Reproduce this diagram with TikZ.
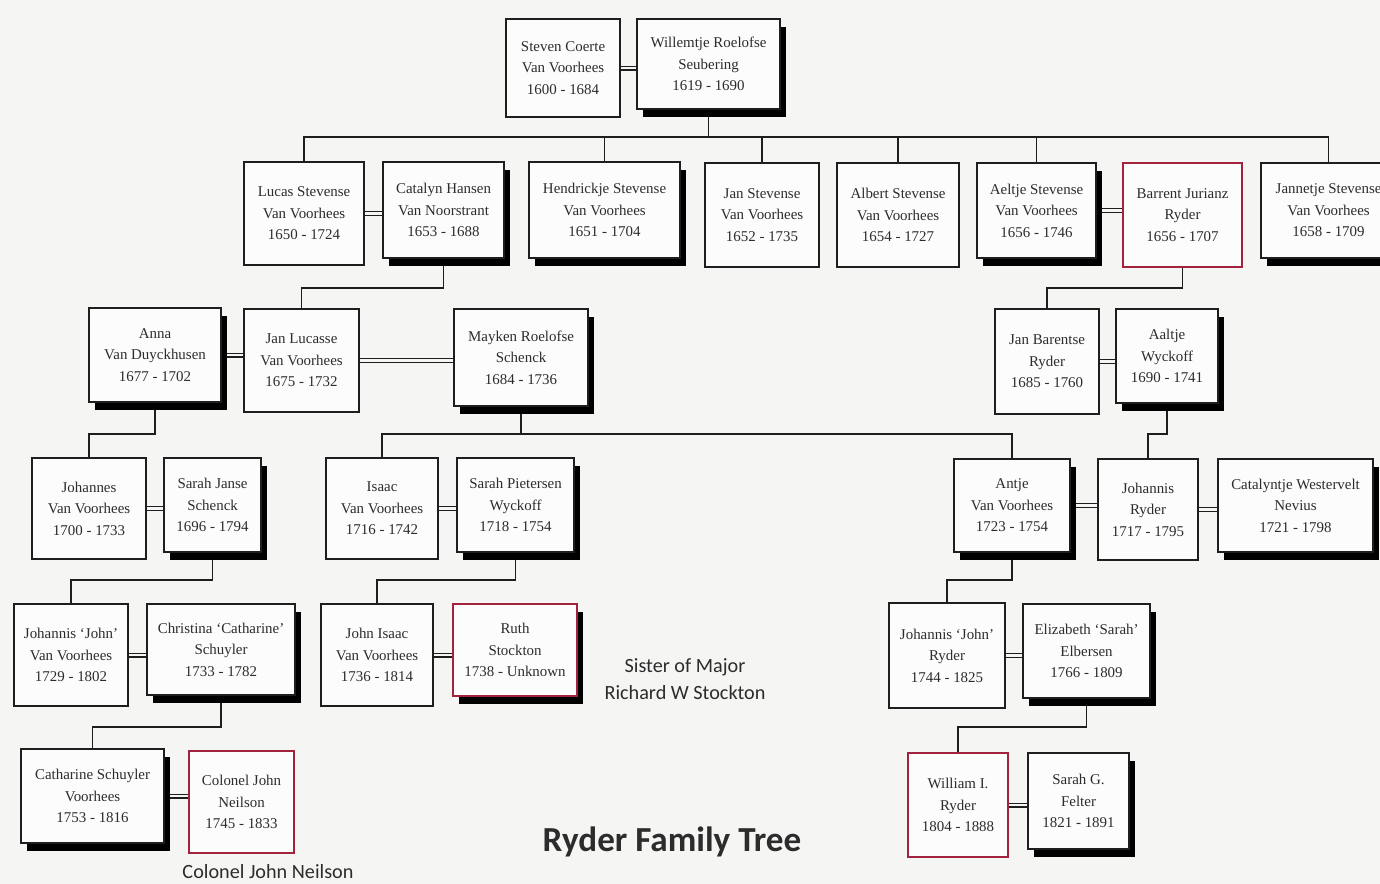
\documentclass[tikz,border=0pt]{standalone}
\usepackage{fontspec}
\setmainfont{Liberation Serif}
\newfontfamily\notefont{Carlito}
\usetikzlibrary{shadows,backgrounds}

\begin{document}
\begin{tikzpicture}[x=0.02cm,y=-0.02cm,
    person/.style={draw=boxline,line width=1.2pt,fill=boxfill,anchor=north west,
      align=center,inner sep=1pt,text=inkgray,font=\fontsize{8.5}{12.2}\selectfont},
    boxsize/.style 2 args={minimum width={#1*0.02cm},minimum height={#2*0.02cm}},
    dropped/.style={general shadow={fill=black,shadow xshift=0.12cm,shadow yshift=-0.15cm}},
    ryder/.style={draw=ryderred},
    link/.style={draw=boxline,line width=0.85pt},
    wed/.style={draw=boxline,line width=0.65pt,double=bgpaper,double distance=1.5pt},
    note/.style={font=\notefont\fontsize{11.5}{15.5}\selectfont,text=inkgray,align=center}]
    \definecolor{boxline}{HTML}{1E1E1E}
    \definecolor{inkgray}{HTML}{2C2C2C}
    \definecolor{bgpaper}{HTML}{F5F5F3}
    \definecolor{boxfill}{HTML}{FCFCFC}
    \definecolor{ryderred}{HTML}{A3233F}
    \useasboundingbox (0,0) rectangle (1380,884);
    % Generation 1
    \node[person,boxsize={114}{98}] (steven) at (505,18)
      {Steven Coerte\\Van Voorhees\\1600 - 1684};
    \node[person,dropped,boxsize={143}{90}] (willemtje) at (636,18)
      {Willemtje Roelofse\\Seubering\\1619 - 1690};
    % Generation 2
    \node[person,boxsize={120}{103}] (lucas) at (243,161)
      {Lucas Stevense\\Van Voorhees\\1650 - 1724};
    \node[person,dropped,boxsize={121}{96}] (catalyn) at (382,161)
      {Catalyn Hansen\\Van Noorstrant\\1653 - 1688};
    \node[person,dropped,boxsize={151}{96}] (hendrickje) at (528,161)
      {Hendrickje Stevense\\Van Voorhees\\1651 - 1704};
    \node[person,boxsize={114}{104}] (janstev) at (704,162)
      {Jan Stevense\\Van Voorhees\\1652 - 1735};
    \node[person,boxsize={122}{104}] (albert) at (836,162)
      {Albert Stevense\\Van Voorhees\\1654 - 1727};
    \node[person,dropped,boxsize={119}{95}] (aeltje) at (976,162)
      {Aeltje Stevense\\Van Voorhees\\1656 - 1746};
    \node[person,ryder,boxsize={119}{104}] (barrent) at (1122,162)
      {Barrent Jurianz\\Ryder\\1656 - 1707};
    \node[person,dropped,boxsize={135}{95}] (jannetje) at (1260,162)
      {Jannetje Stevense\\Van Voorhees\\1658 - 1709};
    % Generation 3
    \node[person,dropped,boxsize={132}{94}] (anna) at (88,307)
      {Anna\\Van Duyckhusen\\1677 - 1702};
    \node[person,boxsize={115}{103}] (janlucasse) at (243,308)
      {Jan Lucasse\\Van Voorhees\\1675 - 1732};
    \node[person,dropped,boxsize={134}{97}] (mayken) at (453,308)
      {Mayken Roelofse\\Schenck\\1684 - 1736};
    \node[person,boxsize={104}{105}] (janbarentse) at (994,308)
      {Jan Barentse\\Ryder\\1685 - 1760};
    \node[person,dropped,boxsize={102}{94}] (aaltje) at (1115,308)
      {Aaltje\\Wyckoff\\1690 - 1741};
    % Generation 4
    \node[person,boxsize={114}{101}] (johannes) at (31,457)
      {Johannes\\Van Voorhees\\1700 - 1733};
    \node[person,dropped,boxsize={97}{94}] (sarahjanse) at (163,457)
      {Sarah Janse\\Schenck\\1696 - 1794};
    \node[person,boxsize={112}{101}] (isaac) at (325,457)
      {Isaac\\Van Voorhees\\1716 - 1742};
    \node[person,dropped,boxsize={117}{94}] (sarahpiet) at (456,457)
      {Sarah Pietersen\\Wyckoff\\1718 - 1754};
    \node[person,dropped,boxsize={116}{93}] (antje) at (953,458)
      {Antje\\Van Voorhees\\1723 - 1754};
    \node[person,boxsize={100}{101}] (johannisryder) at (1097,458)
      {Johannis\\Ryder\\1717 - 1795};
    \node[person,dropped,boxsize={155}{93}] (catalyntje) at (1217,458)
      {Catalyntje Westervelt\\Nevius\\1721 - 1798};
    % Generation 5
    \node[person,boxsize={114}{102}] (johnvv) at (13,603)
      {Johannis `John'\\Van Voorhees\\1729 - 1802};
    \node[person,dropped,boxsize={148}{91}] (christina) at (146,603)
      {Christina `Catharine'\\Schuyler\\1733 - 1782};
    \node[person,boxsize={112}{102}] (johnisaac) at (320,603)
      {John Isaac\\Van Voorhees\\1736 - 1814};
    \node[person,ryder,dropped,boxsize={124}{92}] (ruth) at (452,603)
      {Ruth\\Stockton\\1738 - Unknown};
    \node[person,boxsize={116}{105}] (johnryder) at (888,602)
      {Johannis `John'\\Ryder\\1744 - 1825};
    \node[person,dropped,boxsize={127}{94}] (elizabeth) at (1022,603)
      {Elizabeth `Sarah'\\Elbersen\\1766 - 1809};
    % Generation 6
    \node[person,dropped,boxsize={143}{94}] (catharine) at (20,748)
      {Catharine Schuyler\\Voorhees\\1753 - 1816};
    \node[person,ryder,boxsize={105}{102}] (neilson) at (188,750)
      {Colonel John\\Neilson\\1745 - 1833};
    \node[person,ryder,boxsize={100}{104}] (william) at (907,752)
      {William I.\\Ryder\\1804 - 1888};
    \node[person,dropped,boxsize={101}{96}] (sarahg) at (1027,752)
      {Sarah G.\\Felter\\1821 - 1891};
    % Notes and title
    \node[note] (sister) at (685,679) {Sister of Major\\Richard W Stockton};
    \node[note] (colnote) at (268,872) {Colonel John Neilson};
    \node[font=\notefont\bfseries\fontsize{20}{24}\selectfont,text=inkgray] (title)
      at (672,842) {Ryder Family Tree};
    % Lines behind the boxes
    \begin{scope}[on background layer]
      \fill[bgpaper] (0,0) rectangle (1380,884);
      \draw[wed] (steven.east) -- (steven.east -| willemtje.west);
      \coordinate (gen1) at (711,137);
      \draw[link] (willemtje.south) -- (willemtje.south |- gen1);
      \draw[link] (lucas.north) |- (gen1) -| (jannetje.north);
      \foreach \kid in {hendrickje,janstev,albert,aeltje}
        \draw[link] (\kid.north) -- (\kid.north |- gen1);
      \draw[wed] (lucas.east) -- (lucas.east -| catalyn.west);
      \draw[wed] (aeltje.east) -- (aeltje.east -| barrent.west);
      % to generation 3
      \coordinate (gen2) at (0,288);
      \draw[link] (catalyn.south) |- (janlucasse.north |- gen2) -- (janlucasse.north);
      \draw[link] (barrent.south) |- (janbarentse.north |- gen2) -- (janbarentse.north);
      \draw[wed] (anna.east) -- (anna.east -| janlucasse.west);
      \draw[wed] (janlucasse.east) -- (janlucasse.east -| mayken.west);
      \draw[wed] (janbarentse.east) -- (janbarentse.east -| aaltje.west);
      % to generation 4
      \coordinate (gen3) at (0,434);
      \draw[link] (anna.south) |- (johannes.north |- gen3) -- (johannes.north);
      \draw[link] (mayken.south) -- (mayken.south |- gen3);
      \draw[link] (isaac.north) |- (antje.north |- gen3) -- (antje.north);
      \draw[link] (aaltje.south) |- (johannisryder.north |- gen3) -- (johannisryder.north);
      \draw[wed] (johannes.east) -- (johannes.east -| sarahjanse.west);
      \draw[wed] (isaac.east) -- (isaac.east -| sarahpiet.west);
      \draw[wed] (antje.east) -- (antje.east -| johannisryder.west);
      \draw[wed] (johannisryder.east) -- (johannisryder.east -| catalyntje.west);
      % to generation 5
      \coordinate (gen4) at (0,580);
      \draw[link] (sarahjanse.south) |- (johnvv.north |- gen4) -- (johnvv.north);
      \draw[link] (sarahpiet.south) |- (johnisaac.north |- gen4) -- (johnisaac.north);
      \draw[link] (antje.south) |- (johnryder.north |- gen4) -- (johnryder.north);
      \draw[wed] (johnvv.east) -- (johnvv.east -| christina.west);
      \draw[wed] (johnisaac.east) -- (johnisaac.east -| ruth.west);
      \draw[wed] (johnryder.east) -- (johnryder.east -| elizabeth.west);
      % to generation 6
      \coordinate (gen5) at (0,727);
      \draw[link] (christina.south) |- (catharine.north |- gen5) -- (catharine.north);
      \draw[link] (elizabeth.south) |- (william.north |- gen5) -- (william.north);
      \draw[wed] (catharine.east) -- (catharine.east -| neilson.west);
      \draw[wed] (william.east) -- (william.east -| sarahg.west);
    \end{scope}
  \end{tikzpicture}
\end{document}
